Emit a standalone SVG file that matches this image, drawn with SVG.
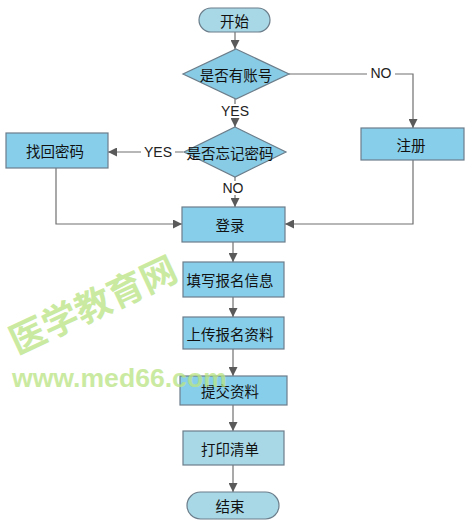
<svg xmlns="http://www.w3.org/2000/svg" width="468" height="531" viewBox="0 0 468 531">
<defs>
<marker id="arr" viewBox="0 0 10 10" refX="10" refY="5" markerWidth="9" markerHeight="9" markerUnits="userSpaceOnUse" orient="auto">
<path d="M0,0 L10,5 L0,10 z" fill="#5a5a5a"/>
</marker>
<style>
.box{fill:#87ceeb;stroke:#6b7d8a;stroke-width:1.2}
.lite{fill:#a8d8e6;stroke:#6b7d8a;stroke-width:1.2}
.dia{fill:#88cbe5;stroke:#6b7d8a;stroke-width:1.2}
.t{font-family:"Noto Sans CJK SC","Liberation Sans",sans-serif;font-size:14.5px;fill:#111;text-anchor:middle;dominant-baseline:central}
.lbl{font-family:"Liberation Sans",Arial,sans-serif;font-size:14px;fill:#222;text-anchor:middle;dominant-baseline:central}
.c{fill:none;stroke:#707070;stroke-width:1.2}
.wm{font-weight:bold;fill:#b9e482;opacity:0.75}
</style>
</defs>
<rect width="468" height="531" fill="#fff"/>
<g id="connectors">
<path class="c" d="M235,32 V49" marker-end="url(#arr)"/>
<path class="c" d="M235,99 V127" marker-end="url(#arr)"/>
<path class="c" d="M289,74 H413 V128" marker-end="url(#arr)"/>
<path class="c" d="M183,152 H108" marker-end="url(#arr)"/>
<path class="c" d="M235,177 V207" marker-end="url(#arr)"/>
<path class="c" d="M56,168 V224 H182" marker-end="url(#arr)"/>
<path class="c" d="M413,160 V224 H285" marker-end="url(#arr)"/>
<path class="c" d="M233,242 V262" marker-end="url(#arr)"/>
<path class="c" d="M233,297 V317" marker-end="url(#arr)"/>
<path class="c" d="M233,349 V376" marker-end="url(#arr)"/>
<path class="c" d="M233,405 V431" marker-end="url(#arr)"/>
<path class="c" d="M233,465 V492" marker-end="url(#arr)"/>
<rect x="215" y="104" width="40" height="14" fill="#fff"/>
<text class="lbl" x="235" y="111">YES</text>
<rect x="141" y="145" width="34" height="14" fill="#fff"/>
<text class="lbl" x="158" y="152">YES</text>
<rect x="220" y="181" width="26" height="14" fill="#fff"/>
<text class="lbl" x="233" y="188">NO</text>
<rect x="367" y="67" width="28" height="14" fill="#fff"/>
<text class="lbl" x="381" y="73">NO</text>
</g>
<g id="start"><rect class="lite" x="199" y="8" width="71" height="24" rx="12"/><text class="t" x="234.5" y="20">开始</text></g>
<g id="hasAccount"><polygon class="dia" points="236,49 289,74 236,99 183,74"/><text class="t" x="236" y="74">是否有账号</text></g>
<g id="forgot"><polygon class="dia" points="235,127 286,152 235,177 184,152"/><text class="t" x="230" y="152">是否忘记密码</text></g>
<g id="recover"><rect class="box" x="6" y="133" width="102" height="35"/><text class="t" x="55" y="150.5">找回密码</text></g>
<g id="register"><rect class="box" x="361" y="128" width="103" height="32"/><text class="t" x="411" y="144">注册</text></g>
<g id="login"><rect class="box" x="182" y="207" width="103" height="35"/><text class="t" x="230" y="224.5">登录</text></g>
<g id="fill"><rect class="box" x="183" y="262" width="101" height="35"/><text class="t" x="230" y="279.5">填写报名信息</text></g>
<g id="upload"><rect class="box" x="183" y="317" width="101" height="32"/><text class="t" x="230" y="333">上传报名资料</text></g>
<g id="submit"><rect class="box" x="180" y="376" width="107" height="29"/><text class="t" x="230" y="390.5">提交资料</text></g>
<g id="print"><rect class="lite" x="183" y="431" width="101" height="34"/><text class="t" x="230" y="448">打印清单</text></g>
<g id="end"><rect class="lite" x="187" y="492" width="92" height="27" rx="13.5"/><text class="t" x="230" y="505.5">结束</text></g>
<g id="watermark">
<text class="wm" x="93" y="318" font-size="36" text-anchor="middle" font-family="'Noto Sans CJK SC',sans-serif" transform="rotate(-25 93 305)">医学教育网</text>
<text class="wm" x="12" y="387" font-size="26.6" font-family="'Liberation Sans',Arial,sans-serif">www.med66.com</text>
</g>
</svg>
